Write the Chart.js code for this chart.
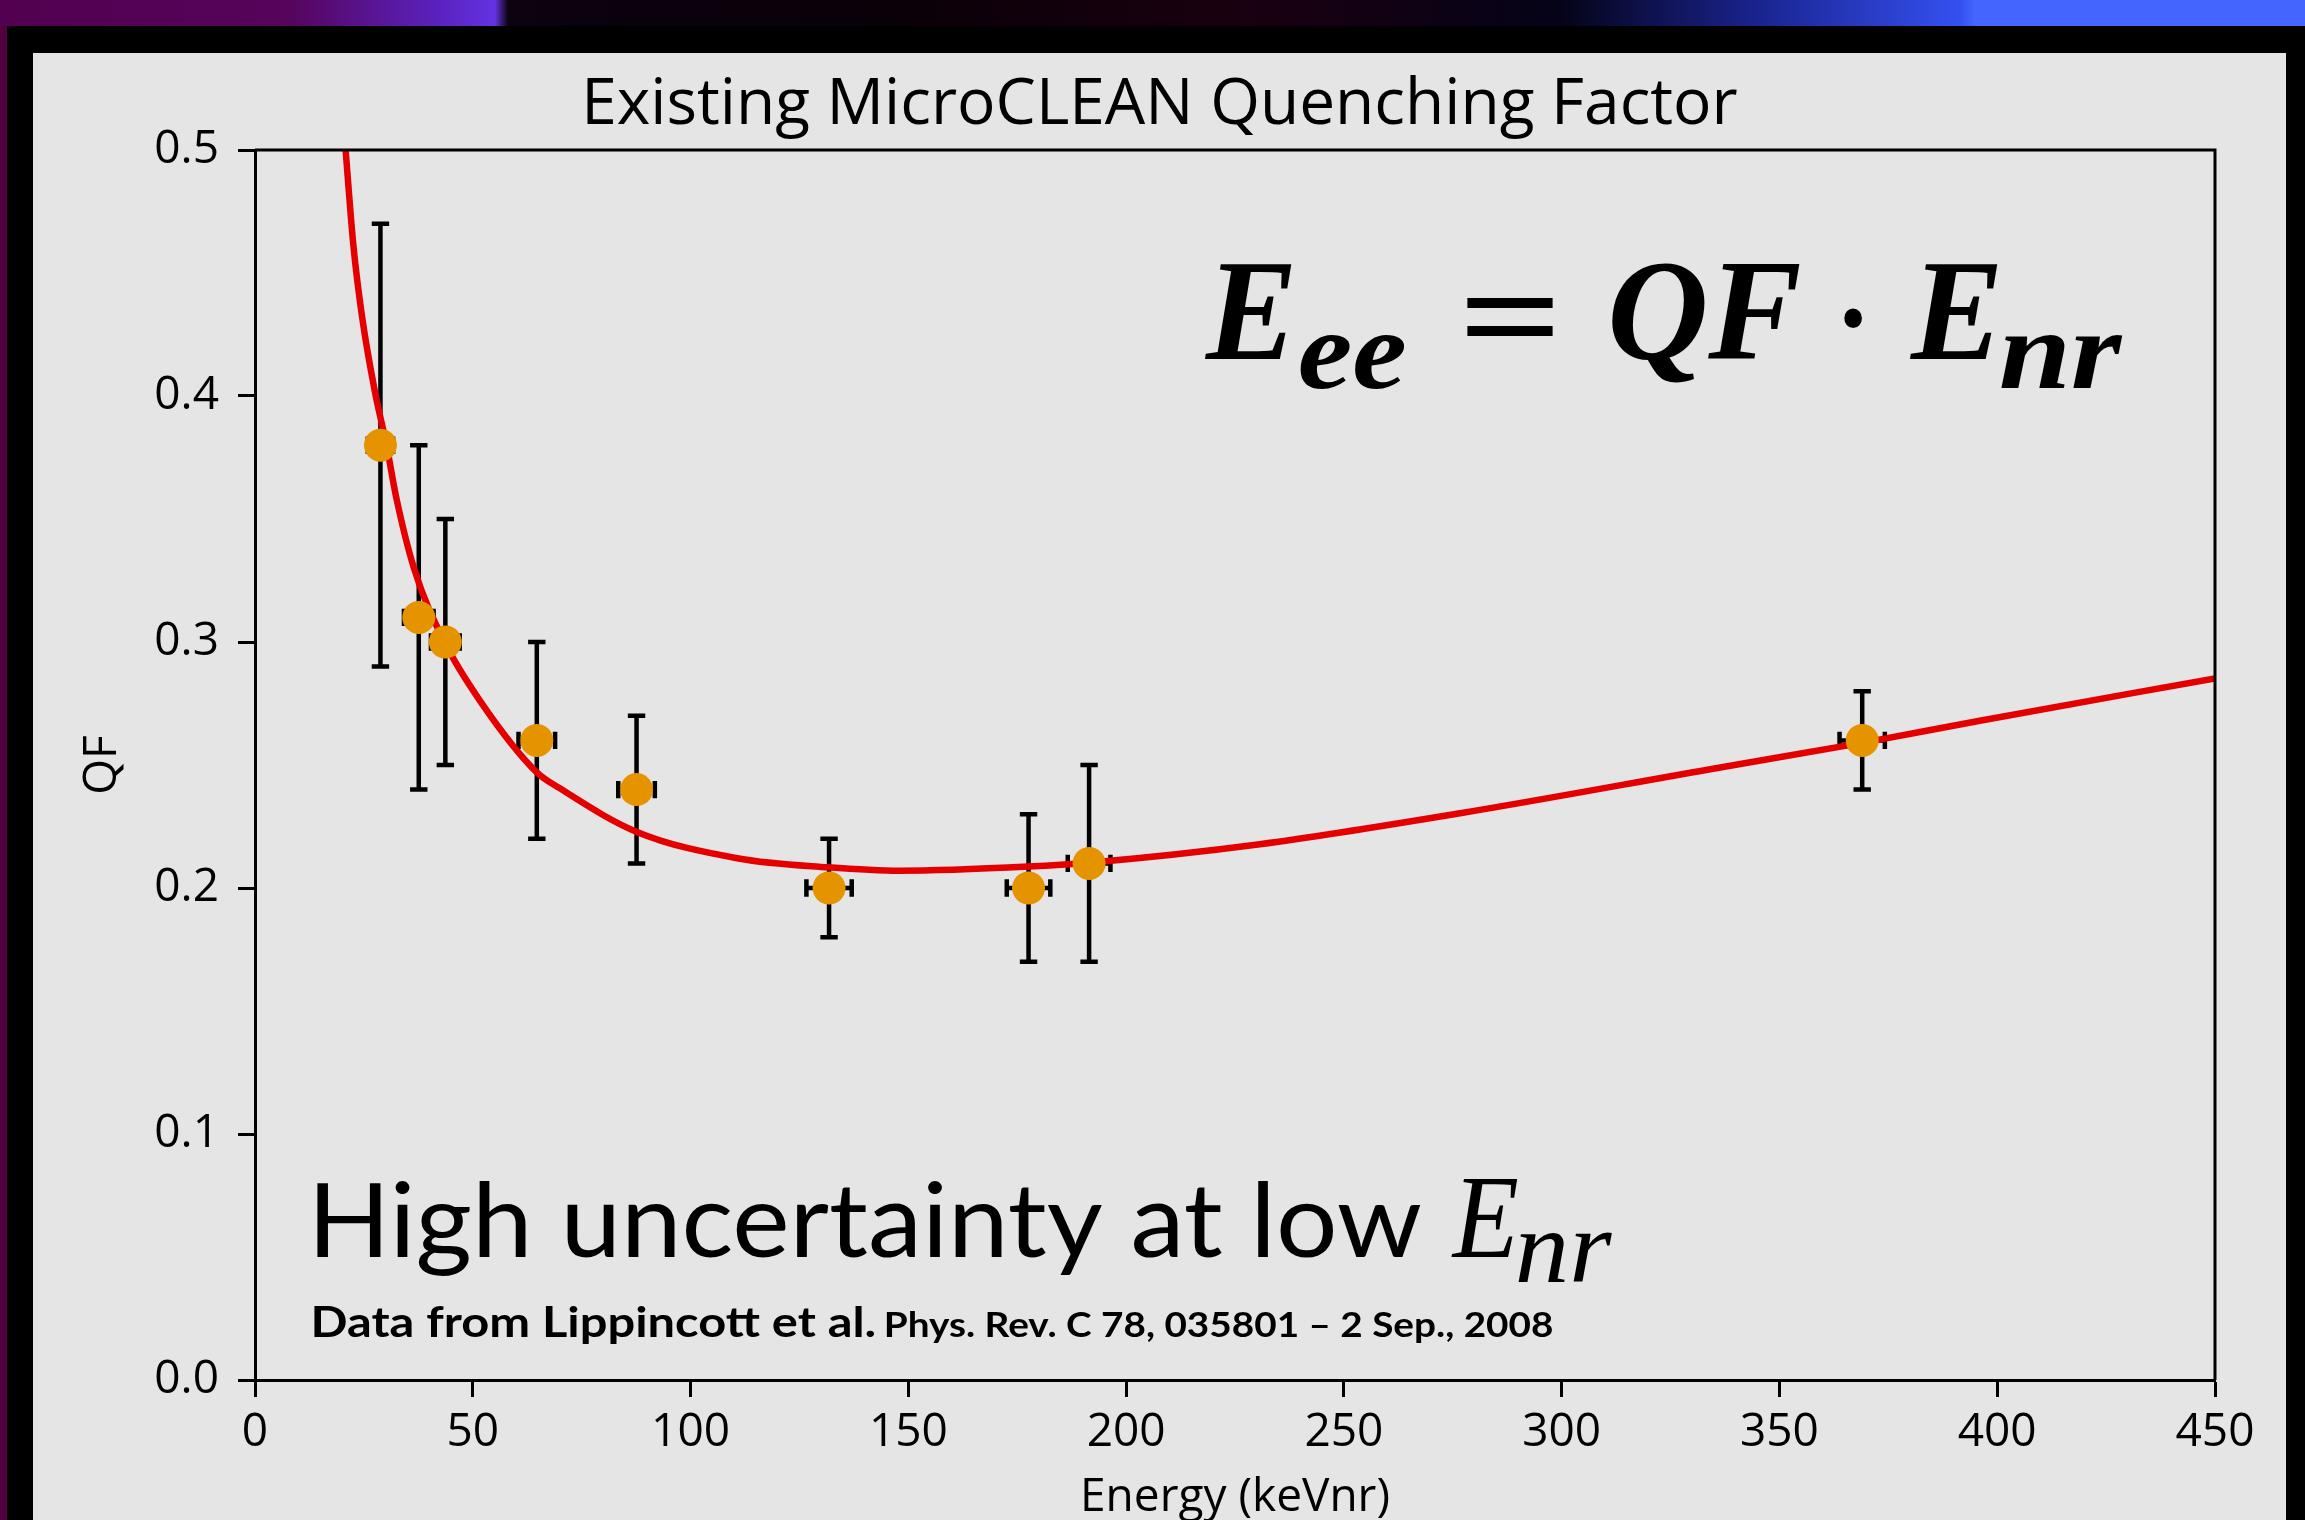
<!DOCTYPE html>
<html>
<head>
<meta charset="utf-8">
<title>Existing MicroCLEAN Quenching Factor</title>
<script src="https://cdn.jsdelivr.net/npm/chart.js@4.4.1/dist/chart.umd.min.js"></script>
<style>
  html, body { margin: 0; padding: 0; width: 2305px; height: 1520px; overflow: hidden; background: #000; }
  #band {
    position: absolute; left: 0; top: 0; width: 2305px; height: 26px;
    background: linear-gradient(to right, #52004f 0px, #56045c 290px, #5a22c0 440px, #6432e0 495px,
      #0c0210 508px, #0a0008 900px, #1a0010 1250px, #050318 1560px, #1a2490 1760px,
      #3450f0 1960px, #4466ff 1975px, #4466ff 2305px);
  }
  #stripe { position: absolute; left: 0; top: 26px; width: 7px; height: 1494px; background: #50003f; }
  #fig { position: absolute; left: 33px; top: 53px; width: 2253px; height: 1500px; background: #e5e5e5; }
</style>
</head>
<body>
<div id="band"></div>
<div id="stripe"></div>
<div id="fig"><canvas id="qf-chart"></canvas></div>
<script>
// measured points (Lippincott et al. 2008)
const energy = [28.8, 37.6, 43.7, 64.7, 87.6, 131.8, 177.6, 191.5, 369.0];
const energyErr = [2.9, 3.4, 3.3, 4.2, 4.2, 5.2, 5.0, 4.9, 5.2];
const qf = [0.38, 0.31, 0.30, 0.26, 0.24, 0.20, 0.20, 0.21, 0.26];
const qfErr = [0.09, 0.07, 0.05, 0.04, 0.03, 0.02, 0.03, 0.04, 0.02];

// red fit curve
const fitEnergy = [20.8, 22.6, 24.6, 27.5, 30.2, 32.4, 36.5, 43.2, 51.7, 64.7, 70, 87.4, 111, 131.5, 148, 177.6, 191.5, 230.7, 276.7, 336.4, 369, 396, 450];
const fitQF = [0.5, 0.461, 0.432, 0.402, 0.380, 0.359, 0.330, 0.301, 0.276, 0.247, 0.2405, 0.223, 0.212, 0.2084, 0.207, 0.2087, 0.2103, 0.2178, 0.2304, 0.249, 0.259, 0.268, 0.2852];

const xTicks = [0, 50, 100, 150, 200, 250, 300, 350, 400, 450];
const yTicks = [0.0, 0.1, 0.2, 0.3, 0.4, 0.5];

// text placed by its ink box
function inkText(ctx, text, font, left, baseline, width) {
  ctx.font = font;
  const m = ctx.measureText(text);
  const s = width / (m.actualBoundingBoxLeft + m.actualBoundingBoxRight);
  ctx.save();
  ctx.translate(left + m.actualBoundingBoxLeft * s, baseline);
  ctx.scale(s, 1);
  ctx.fillText(text, 0, 0);
  ctx.restore();
}
function inkBox(ctx, text, font, left, top, width, height) {
  ctx.font = font;
  const m = ctx.measureText(text);
  const sx = width / (m.actualBoundingBoxLeft + m.actualBoundingBoxRight);
  const sy = height / (m.actualBoundingBoxAscent + m.actualBoundingBoxDescent);
  ctx.save();
  ctx.translate(left + m.actualBoundingBoxLeft * sx, top + m.actualBoundingBoxAscent * sy);
  ctx.scale(sx, sy);
  ctx.fillText(text, 0, 0);
  ctx.restore();
}

const errorBars = {
  id: "errorBars",
  beforeDatasetsDraw(chart) {
    const { ctx, scales: { x, y } } = chart;
    const cap = 8.7;
    ctx.save();
    ctx.strokeStyle = "#000";
    ctx.lineWidth = 4.5;
    energy.forEach((e, i) => {
      const px = x.getPixelForValue(e);
      const py = y.getPixelForValue(qf[i]);
      const top = y.getPixelForValue(qf[i] + qfErr[i]);
      const bot = y.getPixelForValue(qf[i] - qfErr[i]);
      const lft = x.getPixelForValue(e - energyErr[i]);
      const rgt = x.getPixelForValue(e + energyErr[i]);
      ctx.beginPath();
      ctx.moveTo(px, top); ctx.lineTo(px, bot);
      ctx.moveTo(lft, py); ctx.lineTo(rgt, py);
      ctx.moveTo(px - cap, top); ctx.lineTo(px + cap, top);
      ctx.moveTo(px - cap, bot); ctx.lineTo(px + cap, bot);
      ctx.moveTo(lft, py - cap); ctx.lineTo(lft, py + cap);
      ctx.moveTo(rgt, py - cap); ctx.lineTo(rgt, py + cap);
      ctx.stroke();
    });
    ctx.restore();
  },
};

const annotations = {
  id: "annotations",
  afterDraw(chart) {
    const ctx = chart.ctx;
    const area = chart.chartArea;
    ctx.save();
    ctx.strokeStyle = "#000";
    ctx.lineWidth = 3;
    ctx.beginPath();
    ctx.moveTo(area.left, area.top);
    ctx.lineTo(area.right, area.top);
    ctx.lineTo(area.right, area.bottom);
    ctx.stroke();

    ctx.fillStyle = "#000";
    ctx.textBaseline = "alphabetic";
    ctx.textAlign = "center";
    ctx.font = '64px "Open Sans"';
    ctx.fillText("Existing MicroCLEAN Quenching Factor", chart.width / 2, 71);
    ctx.textAlign = "left";

    // E_ee = QF · E_nr
    inkText(ctx, "E", 'italic bold 145px "Liberation Serif"', 1171, 306, 88);
    inkText(ctx, "ee", 'italic bold 112px "Liberation Serif"', 1267, 335, 105);
    inkBox(ctx, "=", 'bold 145px "Liberation Serif"', 1434, 245.3, 86, 38.4);
    inkText(ctx, "QF", 'italic bold 145px "Liberation Serif"', 1579, 306, 188);
    inkBox(ctx, "\u00b7", 'bold 145px "Liberation Serif"', 1811, 254.7, 18, 20);
    inkText(ctx, "E", 'italic bold 145px "Liberation Serif"', 1876, 306, 89);
    inkText(ctx, "nr", 'italic bold 112px "Liberation Serif"', 1968, 335, 122);

    inkText(ctx, "High uncertainty at low", "103px Lato", 284, 1204, 1104);
    inkText(ctx, "E", 'italic 118px "Liberation Serif"', 1418, 1204, 67);
    inkText(ctx, "nr", 'italic 104px "Liberation Serif"', 1485, 1229, 94);

    inkText(ctx, "Data from Lippincott et al.", "bold 42px Lato", 281, 1284, 561);
    inkText(ctx, "Phys. Rev. C 78, 035801 \u2013 2 Sep., 2008", "bold 35px Lato", 853, 1284, 666);
    ctx.restore();
  },
};

const axisFont = { family: "Open Sans", size: 46 };

const chart = new Chart(document.querySelector("#qf-chart"), {
  type: "scatter",
  data: {
    datasets: [
      {
        label: "QF data",
        data: energy.map((e, i) => ({ x: e, y: qf[i] })),
        pointRadius: 16.5,
        pointHoverRadius: 16.5,
        pointBackgroundColor: "#e69300",
        pointBorderWidth: 0,
        borderWidth: 0,
      },
      {
        label: "fit",
        data: fitEnergy.map((e, i) => ({ x: e, y: fitQF[i] })),
        showLine: true,
        pointRadius: 0,
        borderColor: "#e50000",
        borderWidth: 6.5,
        cubicInterpolationMode: "monotone",
        clip: 0,
      },
    ],
  },
  options: {
    responsive: true,
    maintainAspectRatio: false,
    devicePixelRatio: 1,
    animation: false,
    layout: { padding: { top: 97, right: 71, bottom: 0, left: 0 } },
    plugins: {
      legend: { display: false },
      tooltip: { enabled: false },
    },
    scales: {
      x: {
        type: "linear",
        min: 0,
        max: 450,
        afterBuildTicks: (s) => { s.ticks = xTicks.map((v) => ({ value: v })); },
        afterFit: (s) => { s.height = 173; },
        grid: { drawOnChartArea: false, tickLength: 17, tickWidth: 3, tickColor: "#000" },
        border: { color: "#000", width: 3 },
        ticks: { color: "#000", font: axisFont, padding: 8, maxRotation: 0, autoSkip: false },
        title: { display: true, text: "Energy (keVnr)", color: "#000", font: axisFont, padding: { top: 0, bottom: 28 } },
      },
      y: {
        type: "linear",
        min: 0,
        max: 0.5,
        afterBuildTicks: (s) => { s.ticks = yTicks.map((v) => ({ value: v })); },
        afterFit: (s) => { s.width = 222; },
        grid: { drawOnChartArea: false, tickLength: 17, tickWidth: 3, tickColor: "#000" },
        border: { color: "#000", width: 3 },
        ticks: { color: "#000", font: axisFont, padding: 19, callback: (v) => v.toFixed(1) },
        title: { display: true, text: "QF", color: "#000", font: axisFont, padding: { top: 42, bottom: 0 } },
      },
    },
  },
  plugins: [errorBars, annotations],
});
</script>
</body>
</html>
